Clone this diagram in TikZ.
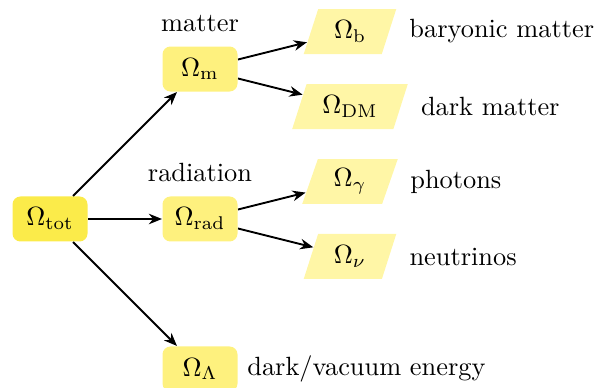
\documentclass[tikz,border=0pt]{standalone}
\usepackage{amsmath,amssymb}
\usepackage{tikz}
\usetikzlibrary{arrows.meta,positioning,shapes.geometric}
\definecolor{totfill}{HTML}{FBEB4A}
\definecolor{partfill}{HTML}{FEF17E}
\definecolor{slantfill}{HTML}{FFF6A6}

\begin{document}
\begin{tikzpicture}[
        x=1cm,
        y=1cm,
        flow/.style={-{Stealth[length=5pt,width=4pt]}, line width=0.7pt},
        box/.style={rounded corners=3pt, minimum width=1cm, minimum height=0.6cm},
        totbox/.style={box, fill=totfill},
        partbox/.style={box, fill=partfill},
        slantbox/.style={trapezium, trapezium left angle=70, trapezium right angle=110,
            trapezium stretches, fill=slantfill, inner xsep=6pt,
            minimum width=1.15cm, minimum height=0.6cm},
        note/.style={label distance=4pt}
    ]
        \useasboundingbox (-0.667,-2.253) rectangle (7.307,2.92);
        \node[totbox] (tot) at (0,0) {$\Omega_{\text{tot}}$};
        \node[partbox, label={[label distance=2pt]above:matter}] (m) at (2,2) {$\Omega_{\text{m}}$};
        \node[partbox, label={[label distance=2pt]above:radiation}] (rad) at (2,0) {$\Omega_{\text{rad}}$};
        \node[partbox, label=right:dark/vacuum energy] (lam) at (2,-2) {$\Omega_\Lambda$};
        \node[slantbox, label={[note]right:baryonic matter}] (bar) at (4,2.5) {$\Omega_{\text{b}}$};
        \node[slantbox, label={[note]right:dark matter}] (dm) at (4,1.5) {$\Omega_{\text{DM}}$};
        \node[slantbox, label={[note]right:photons}] (gam) at (4,0.5) {$\Omega_\gamma$};
        \node[slantbox, label={[note]right:neutrinos}] (nu) at (4,-0.5) {$\Omega_\nu$};
        \foreach \src/\dst in {tot/m, tot/rad, tot/lam, m/bar, m/dm, rad/gam, rad/nu}
            \draw[flow] (\src) -- (\dst);
    \end{tikzpicture}
\end{document}
